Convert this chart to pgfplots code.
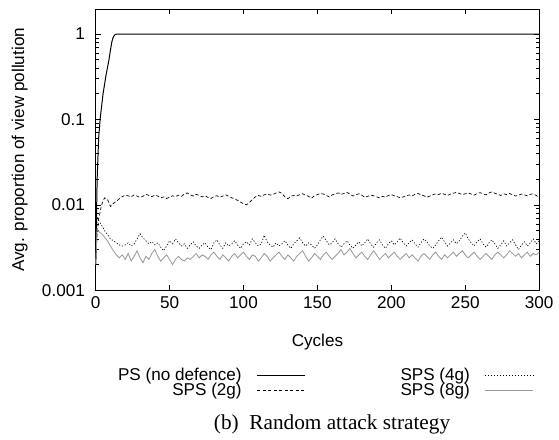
\documentclass[border=0pt]{standalone}
\usepackage{fontspec}
\setmainfont{Liberation Serif}
\setsansfont{Liberation Sans}
\usepackage{pgfplots}
\pgfplotsset{compat=1.18}
\usepackage{pgfplotstable}

% cycle, SPS 2g, 4g, 8g
\pgfplotstableread{
x    sA      sB      sC
0    0.0020  0.0020  0.0020
1    0.0045  0.0072  0.0052
2    0.0068  0.0066  0.0049
4    0.0100  0.0058  0.0046
6    0.0121  0.0050  0.0042
8    0.0116  0.0045  0.0038
10   0.0096  0.0040  0.0033
12   0.0104  0.0038  0.0029
14   0.0110  0.0036  0.0026
16   0.0118  0.0034  0.0024
18   0.0125  0.0033  0.0026
20   0.0130  0.0034  0.0023
22   0.0128  0.0036  0.0027
24   0.0124  0.0033  0.0022
26   0.0131  0.0035  0.0025
28   0.0127  0.0040  0.0029
30   0.0122  0.0046  0.0024
32   0.0126  0.0041  0.0021
34   0.0133  0.0038  0.0025
36   0.0129  0.0035  0.0023
38   0.0125  0.0037  0.0027
40   0.0130  0.0034  0.0030
42   0.0127  0.0036  0.0025
44   0.0121  0.0032  0.0022
46   0.0124  0.0029  0.0024
48   0.0119  0.0033  0.0026
50   0.0123  0.0038  0.0023
52   0.0128  0.0035  0.0020
54   0.0125  0.0040  0.0023
56   0.0130  0.0036  0.0025
58   0.0126  0.0033  0.0023
60   0.0134  0.0035  0.0022
62   0.0138  0.0031  0.0024
64   0.0131  0.0034  0.0023
66   0.0127  0.0037  0.0025
68   0.0133  0.0033  0.0027
70   0.0129  0.0031  0.0024
72   0.0124  0.0034  0.0026
74   0.0128  0.0036  0.0025
76   0.0122  0.0032  0.0023
78   0.0119  0.0030  0.0026
80   0.0125  0.0036  0.0028
82   0.0128  0.0039  0.0025
84   0.0123  0.0034  0.0023
86   0.0127  0.0031  0.0026
88   0.0131  0.0036  0.0024
90   0.0126  0.0033  0.0022
92   0.0121  0.0035  0.0025
94   0.0118  0.0038  0.0027
96   0.0113  0.0034  0.0024
98   0.0108  0.0031  0.0026
100  0.0103  0.0035  0.0028
102  0.0100  0.0037  0.0025
104  0.0107  0.0034  0.0023
106  0.0116  0.0040  0.0026
108  0.0124  0.0036  0.0025
110  0.0129  0.0033  0.0022
112  0.0126  0.0035  0.0024
114  0.0131  0.0044  0.0027
116  0.0135  0.0037  0.0025
118  0.0130  0.0034  0.0022
120  0.0133  0.0032  0.0024
122  0.0138  0.0036  0.0026
124  0.0142  0.0033  0.0028
126  0.0136  0.0035  0.0025
128  0.0124  0.0038  0.0023
130  0.0118  0.0034  0.0026
132  0.0126  0.0031  0.0024
134  0.0129  0.0035  0.0022
136  0.0127  0.0038  0.0025
138  0.0132  0.0041  0.0027
140  0.0135  0.0036  0.0029
142  0.0130  0.0033  0.0025
144  0.0126  0.0036  0.0022
146  0.0120  0.0034  0.0024
148  0.0128  0.0031  0.0027
150  0.0132  0.0034  0.0025
152  0.0136  0.0039  0.0023
154  0.0134  0.0043  0.0026
156  0.0129  0.0038  0.0028
158  0.0124  0.0034  0.0025
160  0.0131  0.0036  0.0023
162  0.0135  0.0040  0.0025
164  0.0138  0.0035  0.0027
166  0.0133  0.0032  0.0030
168  0.0136  0.0035  0.0026
170  0.0140  0.0038  0.0028
172  0.0134  0.0034  0.0031
174  0.0127  0.0031  0.0027
176  0.0131  0.0034  0.0024
178  0.0135  0.0037  0.0026
180  0.0130  0.0033  0.0028
182  0.0123  0.0036  0.0025
184  0.0126  0.0040  0.0023
186  0.0130  0.0035  0.0026
188  0.0128  0.0032  0.0029
190  0.0124  0.0036  0.0026
192  0.0121  0.0039  0.0023
194  0.0126  0.0034  0.0025
196  0.0123  0.0031  0.0027
198  0.0129  0.0035  0.0024
200  0.0132  0.0038  0.0026
202  0.0128  0.0034  0.0028
204  0.0125  0.0037  0.0025
206  0.0121  0.0041  0.0023
208  0.0124  0.0036  0.0025
210  0.0128  0.0033  0.0027
212  0.0131  0.0036  0.0024
214  0.0127  0.0039  0.0026
216  0.0133  0.0035  0.0024
218  0.0136  0.0032  0.0022
220  0.0131  0.0036  0.0025
222  0.0128  0.0040  0.0027
224  0.0123  0.0037  0.0025
226  0.0127  0.0033  0.0023
228  0.0131  0.0031  0.0026
230  0.0135  0.0034  0.0028
232  0.0132  0.0038  0.0025
234  0.0137  0.0042  0.0023
236  0.0133  0.0037  0.0026
238  0.0129  0.0033  0.0024
240  0.0134  0.0036  0.0026
242  0.0137  0.0039  0.0028
244  0.0140  0.0035  0.0025
246  0.0136  0.0038  0.0027
248  0.0132  0.0043  0.0029
250  0.0135  0.0047  0.0026
252  0.0138  0.0040  0.0024
254  0.0134  0.0036  0.0026
256  0.0130  0.0033  0.0028
258  0.0136  0.0037  0.0025
260  0.0139  0.0040  0.0023
262  0.0135  0.0035  0.0025
264  0.0131  0.0032  0.0027
266  0.0138  0.0036  0.0025
268  0.0142  0.0039  0.0023
270  0.0137  0.0035  0.0026
272  0.0133  0.0031  0.0028
274  0.0129  0.0034  0.0026
276  0.0135  0.0038  0.0024
278  0.0132  0.0033  0.0026
280  0.0136  0.0036  0.0029
282  0.0131  0.0039  0.0027
284  0.0127  0.0034  0.0025
286  0.0130  0.0030  0.0027
288  0.0134  0.0034  0.0024
290  0.0131  0.0037  0.0026
292  0.0128  0.0033  0.0028
294  0.0133  0.0036  0.0025
296  0.0135  0.0040  0.0027
298  0.0129  0.0035  0.0026
300  0.0120  0.0038  0.0028
}\sps

\begin{document}
\begin{tikzpicture}
\begin{axis}[
  scale only axis,
  width=267pt, height=169.2pt,
  ymode=log,
  xmin=0, xmax=300, ymin=0.001, ymax=1.95,
  xtick={0,50,...,300},
  ytick={0.001,0.01,0.1,1},
  yticklabels={0.001,0.01,0.1,1},
  minor ytick={0.002,0.003,0.004,0.005,0.006,0.007,0.008,0.009,
               0.02,0.03,0.04,0.05,0.06,0.07,0.08,0.09,
               0.2,0.3,0.4,0.5,0.6,0.7,0.8,0.9},
  tick align=inside,
  major tick length=3pt, minor tick length=1.8pt,
  every tick/.style={black, line width=0.4pt},
  axis line style={line width=0.6pt},
  /pgf/number format/assume math mode=true,
  tick label style={font=\sffamily\fontsize{10.3}{12}\selectfont},
  yticklabel style={xshift=-3pt},
  label style={font=\sffamily\fontsize{10.3}{12}\selectfont},
  xlabel={Cycles},
  ylabel={Avg. proportion of view pollution},
  xlabel style={at={(axis description cs:0.5,-0.184)}, anchor=center},
  ylabel style={at={(axis description cs:-0.171,0.5)}, anchor=center},
  clip=false,
  legend columns=2,
  transpose legend,
  legend plot pos=right,
  legend cell align=right,
  legend image code/.code={\draw[#1] (0pt,0pt) -- (29pt,0pt);},
  legend style={at={(axis description cs:1,-0.252)}, anchor=north east,
    draw=none, fill=none, font=\sffamily\fontsize{10.3}{12}\selectfont,
    row sep=-4pt,
    /tikz/every odd column/.append style={column sep=7pt},
    /tikz/every even column/.append style={column sep=55pt}},
]
\addplot[black, line width=0.6pt] coordinates {
  (0,0.002) (1,0.02) (2,0.06) (3,0.1) (5,0.2) (7,0.33) (9,0.5)
  (10,0.65) (11,0.82) (12,0.93) (13,0.98) (14,1) (300,1)};
\addlegendentry{PS (no defence)}
\addplot[black, line width=0.4pt, dash pattern=on 2pt off 1.3pt]
  table[x=x, y=sA] {\sps};
\addlegendentry{SPS (2g)}
\addplot[black, line width=0.4pt, dash pattern=on 0.7pt off 1.1pt]
  table[x=x, y=sB] {\sps};
\addlegendentry{SPS (4g)}
\addplot[gray!80, line width=0.5pt]
  table[x=x, y=sC] {\sps};
\addlegendentry{SPS (8g)}
\node[font=\rmfamily\fontsize{12.8}{15}\selectfont]
  at (axis description cs:0.533,-0.478) {(b)\ \ Random attack strategy};
\path (axis description cs:-0.2157,1.033) rectangle (axis description cs:1.0404,-0.507);
\end{axis}
\end{tikzpicture}
\end{document}
